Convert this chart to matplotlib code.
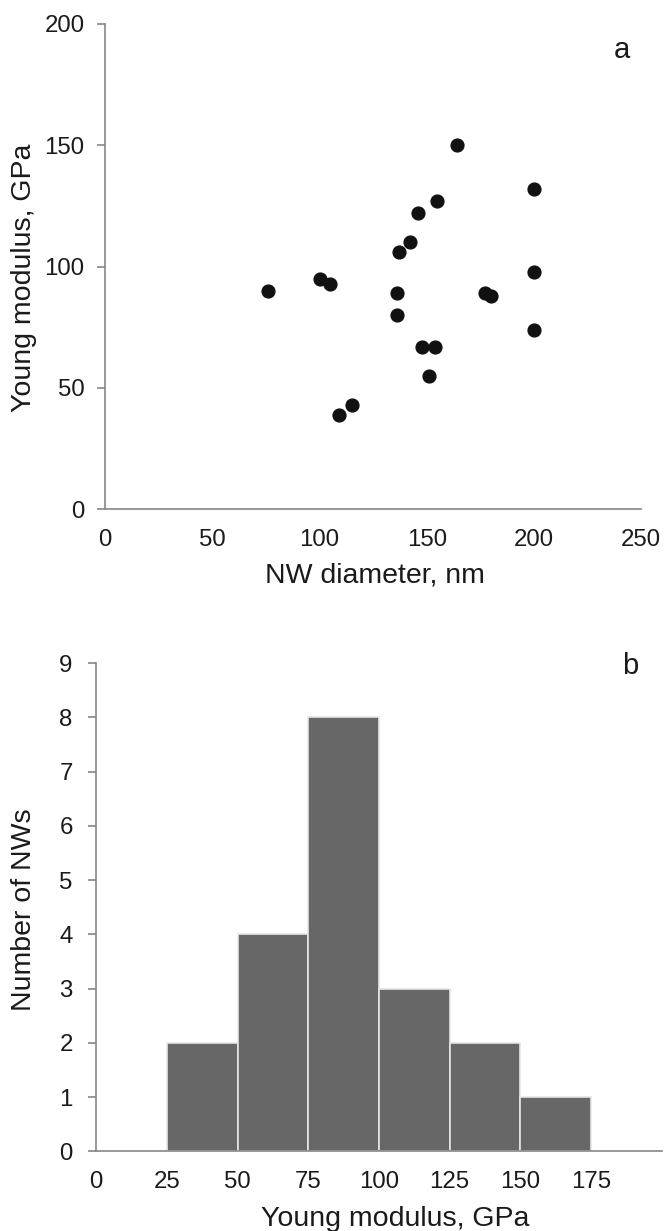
import matplotlib
matplotlib.use("Agg")
import matplotlib.pyplot as plt

# panel a: NW diameter (nm) vs Young modulus (GPa)
diameter = [76, 100, 105, 136, 136, 137, 142, 146, 155, 164,
            200, 200, 200, 177, 180, 148, 154, 151, 109, 115]
modulus = [90, 95, 93, 89, 80, 106, 110, 122, 127, 150,
           132, 98, 74, 89, 88, 67, 67, 55, 39, 43]

# panel b: histogram of Young modulus
bin_left = [25, 50, 75, 100, 125, 150]
bin_width = 25
counts = [2, 4, 8, 3, 2, 1]

plt.rcParams['font.family'] = ['Liberation Sans', 'DejaVu Sans']
W, H = 665, 1231
text_col = '#1a1a1a'
axis_col = '#868686'

fig = plt.figure(figsize=(W / 100, H / 100), dpi=100)


def px_axes(x0, y0, x1, y1):
    # axes from pixel box (top-left origin)
    return fig.add_axes([x0 / W, 1 - y1 / H, (x1 - x0) / W, (y1 - y0) / H])


def style(ax, ypad, xpad):
    for s in ['top', 'right']:
        ax.spines[s].set_visible(False)
    for s in ['left', 'bottom']:
        ax.spines[s].set_color(axis_col)
        ax.spines[s].set_linewidth(1.2)
    ax.tick_params(axis='y', length=6, width=1.2, color=axis_col,
                   labelsize=17.3, labelcolor=text_col, pad=ypad)
    ax.tick_params(axis='x', length=0, labelsize=17.3,
                   labelcolor=text_col, pad=xpad)


# scatter plot
ax1 = px_axes(105.3, 24, 641, 509.3)
ax1.scatter(diameter, modulus, s=85, color='#111111', zorder=3, clip_on=False)
ax1.set_xlim(0, 250)
ax1.set_ylim(0, 200)
ax1.set_xticks(range(0, 251, 50))
ax1.set_yticks(range(0, 201, 50))
style(ax1, 9, 14)

fig.text(375 / W, 1 - 583 / H, 'NW diameter, nm', fontsize=20.5,
         color=text_col, ha='center', va='baseline')
fig.text(24 / W, 1 - 278 / H, 'Young modulus, GPa', fontsize=20.5,
         color=text_col, ha='center', va='center', rotation=90)
fig.text(622 / W, 1 - 58 / H, 'a', fontsize=21, color=text_col,
         ha='center', va='baseline')

# histogram
ax2 = px_axes(96.3, 663, 661.7, 1151.3)
ax2.bar(bin_left, counts, width=bin_width, align='edge', color='#676767',
        edgecolor='#e6e6e6', linewidth=1.2, zorder=2)
ax2.set_xlim(0, 200)
ax2.set_ylim(0, 9)
ax2.set_xticks(range(0, 176, 25))
ax2.set_yticks(range(0, 10))
style(ax2, 11, 14)

fig.text(395 / W, 1 - 1226 / H, 'Young modulus, GPa', fontsize=20.5,
         color=text_col, ha='center', va='baseline')
fig.text(24 / W, 1 - 910 / H, 'Number of NWs', fontsize=20.5,
         color=text_col, ha='center', va='center', rotation=90)
fig.text(630 / W, 1 - 674.5 / H, 'b', fontsize=21, color=text_col,
         ha='center', va='baseline')

fig.savefig('out.png', dpi=100, facecolor='white')
